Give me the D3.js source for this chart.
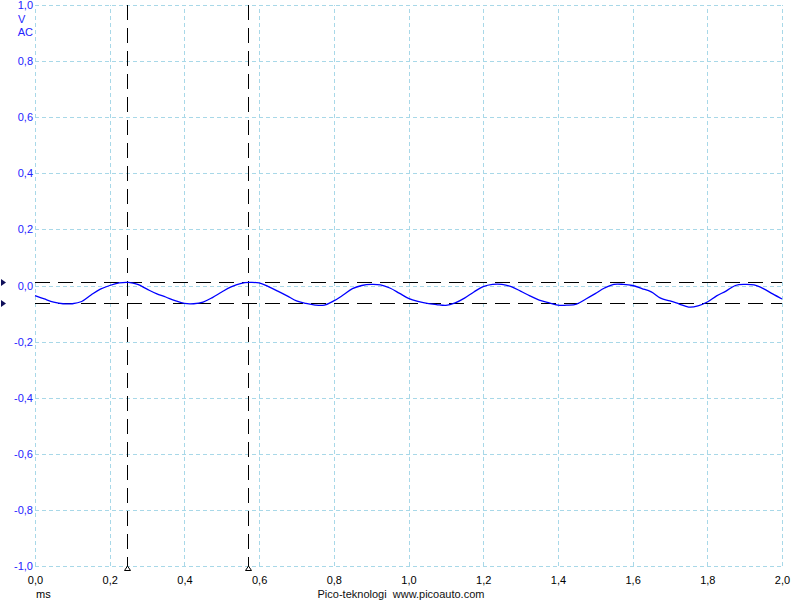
<!DOCTYPE html>
<html>
<head>
<meta charset="utf-8">
<script src="https://cdn.jsdelivr.net/npm/d3@7"></script>
<style>
  html, body { margin: 0; padding: 0; background: #fff; }
  svg { display: block; font-family: "Liberation Sans", Arial, sans-serif; }
</style>
</head>
<body>
<svg id="chart" width="800" height="600"></svg>
<script>
// ---- Data ----
const timeMs = [
  0.000, 0.025, 0.050, 0.075, 0.100, 0.125, 0.150, 0.175, 0.200, 0.225,
  0.250, 0.275, 0.300, 0.325, 0.350, 0.375, 0.400, 0.425, 0.450, 0.475,
  0.500, 0.525, 0.550, 0.575, 0.600, 0.625, 0.650, 0.675, 0.700, 0.725,
  0.750, 0.775, 0.800, 0.825, 0.850, 0.875, 0.900, 0.925, 0.950, 0.975,
  1.000, 1.025, 1.050, 1.075, 1.100, 1.125, 1.150, 1.175, 1.200, 1.225,
  1.250, 1.275, 1.300, 1.325, 1.350, 1.375, 1.400, 1.425, 1.450, 1.475,
  1.500, 1.525, 1.550, 1.575, 1.600, 1.625, 1.650, 1.675, 1.700, 1.725,
  1.750, 1.775, 1.800, 1.825, 1.850, 1.875, 1.900, 1.925, 1.950, 1.975,
  2.000
];
const voltageV = [
  -0.036, -0.048, -0.059, -0.065, -0.065, -0.057, -0.034, -0.013, 0.000, 0.009,
   0.011,  0.004, -0.013, -0.029, -0.041, -0.054, -0.064, -0.065, -0.059, -0.043,
  -0.023, -0.005,  0.007,  0.011,  0.009, -0.004, -0.020, -0.037, -0.055, -0.064,
  -0.070, -0.070, -0.055, -0.034, -0.011,  0.000,  0.004,  0.002, -0.009, -0.027,
  -0.046, -0.057, -0.064, -0.068, -0.071, -0.062, -0.045, -0.023, -0.004,  0.004,
   0.004, -0.004, -0.020, -0.037, -0.052, -0.061, -0.070, -0.070, -0.066, -0.048,
  -0.029, -0.009,  0.004,  0.004,  0.000, -0.011, -0.023, -0.045, -0.055, -0.066,
  -0.077, -0.073, -0.059, -0.037, -0.020,  0.000,  0.004,  0.002, -0.011, -0.030,
  -0.048
];
const xTicks = [0.0, 0.2, 0.4, 0.6, 0.8, 1.0, 1.2, 1.4, 1.6, 1.8, 2.0];
const yTicks = [-1.0, -0.8, -0.6, -0.4, -0.2, 0.0, 0.2, 0.4, 0.6, 0.8, 1.0];
const timeCursors = [0.246, 0.570];      // ms
const voltageCursors = [0.0125, -0.064]; // V
const xUnit = "ms";
const yUnit = "V";
const coupling = "AC";
const footer = "Pico-teknologi  www.picoauto.com";

// ---- Layout ----
const pLeft = 35, pRight = 782, pTop = 5, pBottom = 566;
const svg = d3.select("#chart");
const x = d3.scaleLinear().domain([0, 2]).range([pLeft, pRight]);
const y = d3.scaleLinear().domain([-1, 1]).range([pBottom, pTop]);
const fmt = d => d3.format(".1f")(d).replace(".", ",").replace("\u2212", "-");

const gridColor = "#a8d8e8";

// X axis with grid
const gx = svg.append("g")
  .attr("transform", `translate(0,${pBottom})`)
  .call(d3.axisBottom(x).tickValues(xTicks).tickFormat(fmt)
    .tickSize(-(pBottom - pTop)).tickPadding(10));
gx.select(".domain").remove();
gx.selectAll(".tick line")
  .attr("stroke", gridColor).attr("stroke-dasharray", "4,3").attr("shape-rendering", "crispEdges");
gx.selectAll(".tick text")
  .attr("fill", "#000").style("font-size", "11px").style("font-family", "Liberation Sans, Arial, sans-serif");

// Y axis with grid
const gy = svg.append("g")
  .attr("transform", `translate(${pLeft},0)`)
  .call(d3.axisLeft(y).tickValues(yTicks).tickFormat(fmt)
    .tickSize(-(pRight - pLeft)).tickPadding(2));
gy.select(".domain").remove();
gy.selectAll(".tick line")
  .attr("stroke", gridColor).attr("stroke-dasharray", "4,3").attr("shape-rendering", "crispEdges");
gy.selectAll(".tick text")
  .attr("fill", "#2424ff").style("font-size", "11px").style("font-family", "Liberation Sans, Arial, sans-serif");

// Unit labels
svg.append("text").attr("x", 18).attr("y", 23).attr("fill", "#2424ff")
  .style("font-size", "11px").text(yUnit);
svg.append("text").attr("x", 33).attr("y", 36).attr("text-anchor", "end").attr("fill", "#2424ff")
  .style("font-size", "11px").text(coupling);
svg.append("text").attr("x", 36).attr("y", 598).attr("fill", "#000")
  .style("font-size", "11px").text(xUnit);
svg.append("text").attr("x", 401).attr("y", 598).attr("text-anchor", "middle").attr("fill", "#101010")
  .style("font-size", "11px").style("white-space", "pre").text(footer);

// Voltage cursors (horizontal)
svg.selectAll(".hcur").data(voltageCursors).enter().append("line")
  .attr("x1", pLeft).attr("x2", pRight)
  .attr("y1", d => Math.round(y(d)) + 0.5).attr("y2", d => Math.round(y(d)) + 0.5)
  .attr("stroke", "#000").attr("stroke-width", 1).attr("stroke-dasharray", "15,8");
svg.selectAll(".hmark").data(voltageCursors).enter().append("path")
  .attr("d", d => { const cy = Math.round(y(d)) + 0.5; return `M1,${cy - 3.5} L6,${cy} L1,${cy + 3.5} Z`; })
  .attr("fill", "#10105a");

// Time cursors (vertical)
svg.selectAll(".vcur").data(timeCursors).enter().append("line")
  .attr("x1", d => Math.round(x(d)) + 0.5).attr("x2", d => Math.round(x(d)) + 0.5)
  .attr("y1", pTop).attr("y2", pBottom)
  .attr("stroke", "#000").attr("stroke-width", 1).attr("stroke-dasharray", "15,8");
svg.selectAll(".vmark").data(timeCursors).enter().append("path")
  .attr("d", d => { const cx = Math.round(x(d)) + 0.5; return `M${cx},${pBottom} L${cx + 3},${pBottom + 4.5} L${cx - 3},${pBottom + 4.5} Z`; })
  .attr("fill", "#fff").attr("stroke", "#000").attr("stroke-width", 1);

// Waveform
const pts = timeMs.map((t, i) => [t, voltageV[i]]);
const line = d3.line().x(d => x(d[0])).y(d => y(d[1])).curve(d3.curveCatmullRom);
svg.append("path").datum(pts)
  .attr("d", line).attr("fill", "none").attr("stroke", "#0000ff").attr("stroke-width", 1.3);
</script>
</body>
</html>
